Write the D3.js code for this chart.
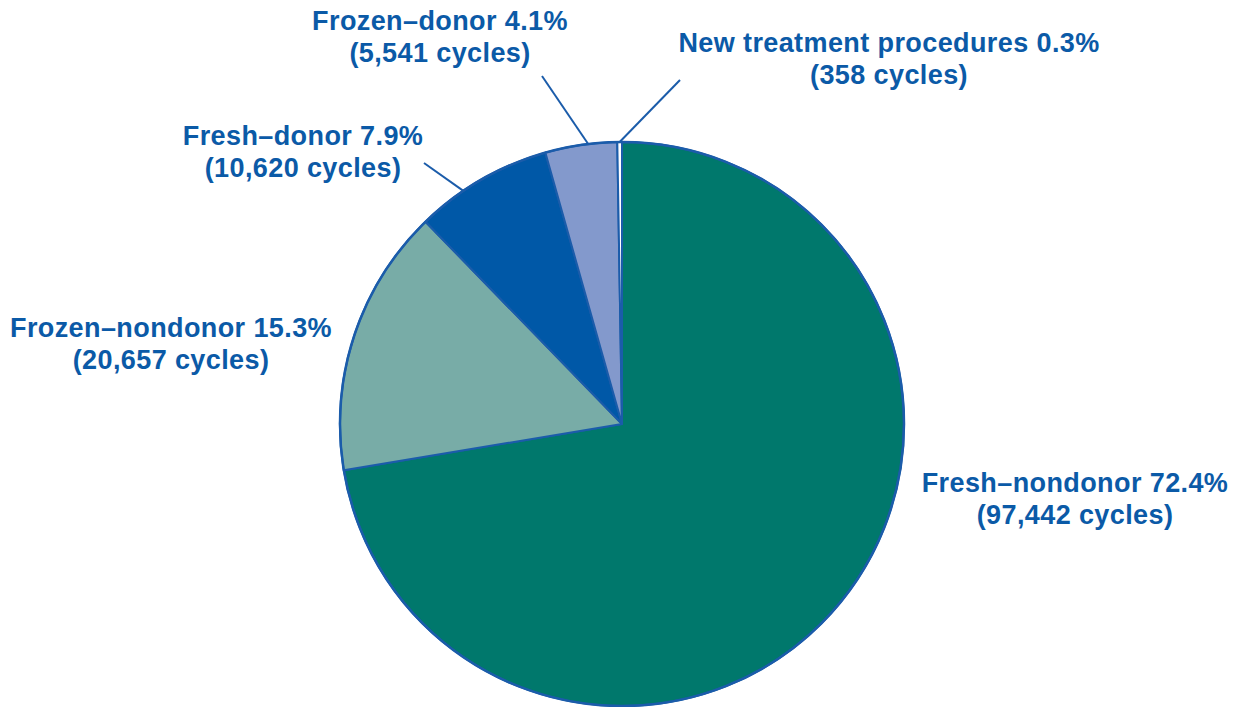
<!DOCTYPE html>
<html>
<head>
<meta charset="utf-8">
<script src="https://cdn.jsdelivr.net/npm/d3@7"></script>
<style>
  html, body { margin: 0; padding: 0; background: #fff; }
  svg { display: block; }
  text { font-family: "Liberation Sans", Arial, sans-serif; font-weight: bold; fill: #0B5AA7; letter-spacing: 0.4px; }
</style>
</head>
<body>
<svg id="chart" width="1242" height="707"></svg>
<script>
const CATEGORIES = ['Fresh–nondonor', 'Frozen–nondonor', 'Fresh–donor', 'Frozen–donor', 'New treatment procedures'];
const CYCLES = [97442, 20657, 10620, 5541, 358];
const PERCENTS = ['72.4%', '15.3%', '7.9%', '4.1%', '0.3%'];
const COLORS = ['#00786C', '#78ACA7', '#0058A7', '#8399CC', '#FFFFFF'];

// label anchors (text centre, first baseline), leader line start and where along the slice it ends
const LABELS = [
  { x: 1075, y: 492, line: null },
  { x: 171, y: 337, line: null },
  { x: 303, y: 145, line: [424, 163], at: 0.35 },
  { x: 440, y: 30, line: [542, 76], at: 0.6 },
  { x: 889, y: 52, line: [680, 80], at: 0.5 }
];

(function () {
  "use strict";

  let svg = d3.select('#chart'),
    cx = 622,
    cy = 424,
    radius = 282,
    stroke = '#1B5CAA';

  let data = CATEGORIES.map(function (c, i) {
    return { name: c, value: CYCLES[i], pct: PERCENTS[i], color: COLORS[i], label: LABELS[i] };
  });

  let pie = d3.pie()
    .sort(null)
    .value(function (d) { return d.value; });

  let arc = d3.arc().innerRadius(0).outerRadius(radius);
  let rim = d3.arc().innerRadius(radius).outerRadius(radius);

  let g = svg.append('g').attr('transform', 'translate(' + cx + ',' + cy + ')');

  let arcs = pie(data);

  /*
   * slices
   */
  g.selectAll('path.slice')
    .data(arcs)
    .enter()
    .append('path')
    .attr('class', 'slice')
    .attr('d', arc)
    .attr('fill', function (d) { return d.data.color; })
    .attr('stroke', stroke)
    .attr('stroke-width', 2)
    .attr('stroke-linejoin', 'round');

  // outer rim
  g.append('circle')
    .attr('r', radius)
    .attr('fill', 'none')
    .attr('stroke', stroke)
    .attr('stroke-width', 2.5);

  /*
   * leader lines
   */
  arcs.forEach(function (d) {
    let l = d.data.label.line;
    if (!l) return;
    let a = d.startAngle + (d.endAngle - d.startAngle) * d.data.label.at;
    let p = rim.centroid({ startAngle: a, endAngle: a });
    svg.append('line')
      .attr('x1', l[0])
      .attr('y1', l[1])
      .attr('x2', cx + p[0])
      .attr('y2', cy + p[1])
      .attr('stroke', stroke)
      .attr('stroke-width', 2);
  });

  /*
   * labels
   */
  let labels = svg.selectAll('text.lbl')
    .data(data)
    .enter()
    .append('text')
    .attr('class', 'lbl')
    .attr('text-anchor', 'middle')
    .attr('font-size', 27);

  labels.append('tspan')
    .attr('x', function (d) { return d.label.x; })
    .attr('y', function (d) { return d.label.y; })
    .text(function (d) { return d.name + ' ' + d.pct; });

  labels.append('tspan')
    .attr('x', function (d) { return d.label.x; })
    .attr('y', function (d) { return d.label.y + 32; })
    .text(function (d) { return '(' + d3.format(',')(d.value) + ' cycles)'; });
}());
</script>
</body>
</html>
